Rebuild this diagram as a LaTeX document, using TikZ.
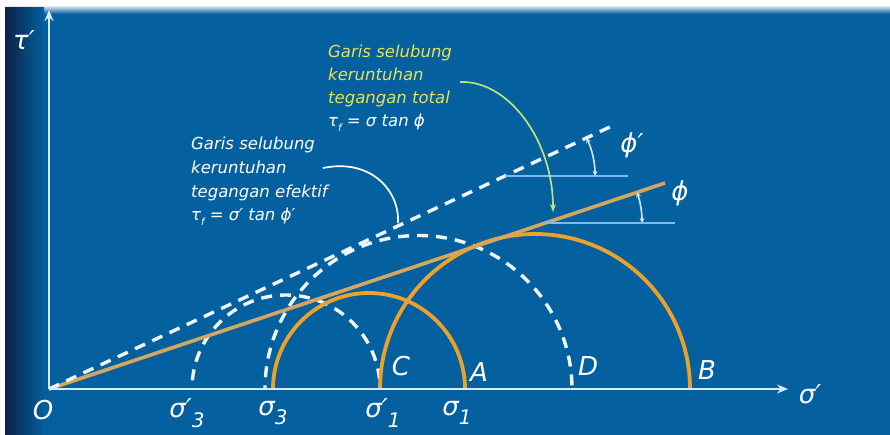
\documentclass[tikz,border=0pt]{standalone}
\usepackage{fontspec}
\setmainfont{DejaVu Sans}
\usetikzlibrary{arrows.meta}
\definecolor{bgblue}{RGB}{4,96,158}
\definecolor{navy}{RGB}{12,34,70}
\definecolor{axiscol}{RGB}{215,235,252}
\definecolor{dashcol}{RGB}{238,246,255}
\definecolor{orc}{RGB}{236,162,42}
\definecolor{orl}{RGB}{214,166,96}
\definecolor{thinblue}{RGB}{125,188,232}
\definecolor{angcol}{RGB}{205,232,250}
\definecolor{yeltext}{RGB}{232,226,82}
\definecolor{ygarrow}{RGB}{190,226,122}
\newcommand\lsub[1]{\raisebox{-0.36em}{\fontsize{20}{20}\selectfont #1}}
\newcommand\tsub[1]{\raisebox{-0.28em}{\fontsize{10}{10}\selectfont #1}}
\begin{document}
\begin{tikzpicture}[x=1pt,y=-1pt,
  lbl/.style={text=white,font=\fontsize{26}{28}\selectfont\itshape,inner sep=0pt},
  txt/.style={font=\fontsize{16.5}{20}\selectfont\itshape,inner sep=0pt,anchor=base west},
  axisline/.style={draw=axiscol,line width=2.6pt,-{Stealth[length=11pt,width=9pt]}},
  orcircle/.style={draw=orc,line width=3.8pt},
  orline/.style={draw=orl,line width=3.6pt},
  dashline/.style={draw=dashcol,line width=3.4pt,dash pattern=on 11pt off 8pt},
  thinline/.style={draw=thinblue,line width=1.8pt},
  angarrow/.style={draw=angcol,line width=1.6pt,{Stealth[length=5pt,width=5pt]}-{Stealth[length=5pt,width=5pt]}},
  leader/.style={line width=1.7pt}]
\useasboundingbox (0,0) rectangle (890,435);
% background
\fill[white] (0,0) rectangle (890,435);
\fill[bgblue] (5,8) rectangle (890,435);
\shade[top color=white!75!bgblue,bottom color=bgblue] (5,7) rectangle (890,14);
\shade[left color=navy,right color=bgblue] (5,8) rectangle (44,435);
% circles
\begin{scope}
\clip (0,0) rectangle (890,389);
\draw[dashline] (286,389) circle[radius=94];
\draw[dashline] (418.5,389) circle[radius=153.5];
\draw[orcircle] (369,389) circle[radius=96];
\draw[orcircle] (535,389) circle[radius=155];
\end{scope}
% axes
\coordinate (O) at (49,389);
\coordinate (yend) at (49,10);
\coordinate (xend) at (788,389);
% envelopes
\coordinate (effend) at (612,126);
\coordinate (totend) at (665,183);
\draw[orline] (O) -- (totend);
\draw[dashline] (O) -- (effend);
\draw[axisline] (O) -- (yend);
\draw[axisline] (O) -- (xend);
% angle markers
\coordinate (h1a) at (505,176);
\coordinate (h1b) at (628,176);
\coordinate (h2a) at (545,223);
\coordinate (h2b) at (675,223);
\draw[thinline] (h1a) -- (h1b);
\draw[thinline] (h2a) -- (h2b);
\draw[angarrow] (586.6,138) arc[start angle=-25,end angle=0,radius=90];
\draw[angarrow] (637,192.2) arc[start angle=-18.5,end angle=0,radius=97];
\node[lbl] (phip) at (632,145) {ϕ′};
\node[lbl] (phi) at (680,193) {ϕ};
% axis labels
\node[lbl] (tau) at (24,40) {τ′};
\node[lbl] (sig) at (810,394) {σ′};
\node[lbl] (O0) at (43,410) {O};
\node[lbl] (s3p) at (187,413) {σ′\lsub{3}};
\node[lbl] (s3) at (273,413) {σ\lsub{3}};
\node[lbl] (s1p) at (383,413) {σ′\lsub{1}};
\node[lbl] (s1) at (457,413) {σ\lsub{1}};
\node[lbl] (C) at (401,366) {C};
\node[lbl] (A) at (479,372) {A};
\node[lbl] (D) at (588,366) {D};
\node[lbl] (B) at (707,370) {B};
% effective text
\node[txt,text=white] (e1) at (191,150) {Garis selubung};
\node[txt,text=white] (e2) at (191,174) {keruntuhan};
\node[txt,text=white] (e3) at (191,198) {tegangan efektif};
\node[txt,text=white] (e4) at (191,221) {τ\tsub{f} = σ′ tan ϕ′};
\coordinate (elead) at (323,168);
\coordinate (etip) at (398,223);
\draw[leader,white] (elead) .. controls (372,158) and (400,192) .. (etip);
% total text
\node[txt,text=yeltext] (t1) at (328,58) {Garis selubung};
\node[txt,text=yeltext] (t2) at (328,81) {keruntuhan};
\node[txt,text=yeltext] (t3) at (328,104) {tegangan total};
\node[txt,text=white] (t4) at (328,127) {τ\tsub{f} = σ tan ϕ};
\coordinate (tlead) at (460,82);
\coordinate (ttip) at (553,212);
\draw[leader,ygarrow,-{Stealth[length=8pt,width=6pt]}] (tlead) .. controls (508,80) and (553,140) .. (ttip);
\end{tikzpicture}
\end{document}
